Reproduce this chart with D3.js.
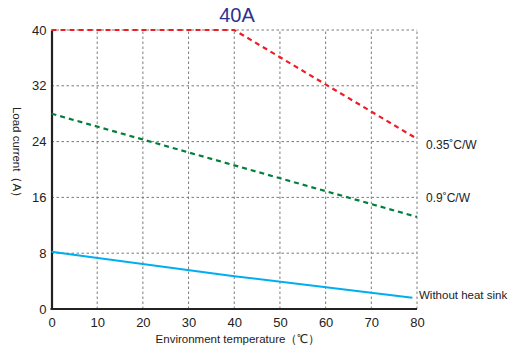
<!DOCTYPE html>
<html><head><meta charset="utf-8">
<script src="https://cdn.jsdelivr.net/npm/d3@7"></script>
<style>body{margin:0;background:#fff}svg{display:block;font-family:"Liberation Sans",Arial,sans-serif}</style>
</head><body><svg id="c" width="514" height="355"></svg>
<script>
const title = "40A";
const xTicks = [0,10,20,30,40,50,60,70,80];
const yTicks = [0,8,16,24,32,40];
const redTemps = [0,40,80];
const redValues = [40,40,24.4];
const greenTemps = [0,80];
const greenValues = [28,13.2];
const blueTemps = [0,40,79];
const blueValues = [8.2,4.7,1.6];
const seriesLabels = ["0.35˚C/W","0.9˚C/W","Without heat sink"];

const svg = d3.select("#c");
const x = d3.scaleLinear().domain([0,80]).range([51.5,417]);
const y = d3.scaleLinear().domain([0,40]).range([309,30]);

// grid
const grid = svg.append("g").attr("stroke","#7a7a7a").attr("stroke-width",1).attr("stroke-dasharray","2.5,2.5");
xTicks.filter(d=>d>0).forEach(d=>grid.append("line").attr("x1",x(d)).attr("x2",x(d)).attr("y1",y(0)).attr("y2",y(40)));
yTicks.filter(d=>d>0).forEach(d=>grid.append("line").attr("x1",x(0)).attr("x2",x(80)).attr("y1",y(d)).attr("y2",y(d)));

// axes
const xa = svg.append("g").attr("transform",`translate(0,${y(0)})`)
  .call(d3.axisBottom(x).tickValues(xTicks).tickSize(0).tickPadding(9));
const ya = svg.append("g").attr("transform",`translate(${x(0)},0)`)
  .call(d3.axisLeft(y).tickValues(yTicks).tickSize(0).tickPadding(5));
[xa,ya].forEach(a=>{
  a.select(".domain").attr("stroke","#222").attr("stroke-width",2.2);
  a.selectAll("text").attr("font-size",13).attr("fill","#222").attr("font-family","Liberation Sans, Arial, sans-serif");
});
xa.select(".domain").attr("d",`M${x(0)-1},0H${x(80)}`);

const line = d3.line().x(d=>x(d[0])).y(d=>y(d[1]));
svg.append("path").datum(d3.zip(greenTemps,greenValues)).attr("d",line)
  .attr("fill","none").attr("stroke","#00803c").attr("stroke-width",2.2).attr("stroke-dasharray","5,4");
svg.append("path").datum(d3.zip(redTemps,redValues)).attr("d",line)
  .attr("fill","none").attr("stroke","#ee1c25").attr("stroke-width",2.2).attr("stroke-dasharray","5,4");
svg.append("path").datum(d3.zip(blueTemps,blueValues)).attr("d",line)
  .attr("fill","none").attr("stroke","#00aeef").attr("stroke-width",2);

// labels
svg.append("text").attr("x",237).attr("y",22).attr("text-anchor","middle")
  .attr("font-size",20).attr("fill","#2e3192").text(title);
svg.append("text").attr("x",426).attr("y",y(redValues[2])+10).attr("font-size",12).attr("fill","#222").text(seriesLabels[0]);
svg.append("text").attr("x",426).attr("y",y(16)+5).attr("font-size",12).attr("fill","#222").text(seriesLabels[1]);
svg.append("text").attr("x",419).attr("y",y(1.6)+1).attr("font-size",11.5).attr("fill","#222").text(seriesLabels[2]);
svg.append("text").attr("x",238).attr("y",343).attr("text-anchor","middle")
  .attr("font-size",11.5).attr("fill","#222").text("Environment temperature（℃）");
svg.append("text").attr("transform","translate(13,155) rotate(90)").attr("text-anchor","middle")
  .attr("font-size",11.5).attr("fill","#222").text("Load current（A）");
</script></body></html>
